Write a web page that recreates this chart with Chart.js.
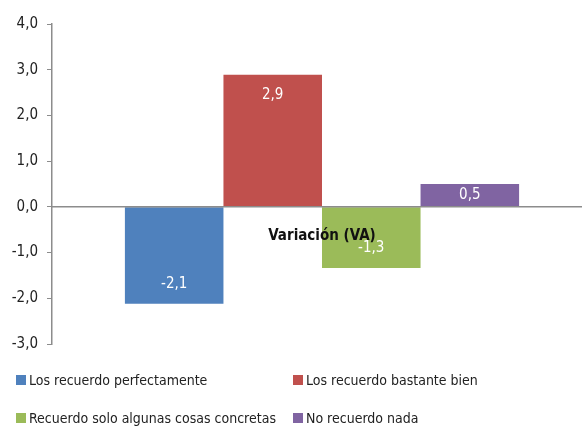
<!DOCTYPE html>
<html>
<head>
<meta charset="utf-8">
<script src="https://cdn.jsdelivr.net/npm/chart.js@4"></script>
<style>
    body { margin: 0; background: #fff; }
    #wrap { position: relative; width: 582px; height: 427px; overflow: hidden; }
    #legend { position: absolute; left: 0; top: 364px; width: 582px; font-family: "Liberation Sans Narrow", "DejaVu Sans Condensed", sans-serif; font-size: 14px; color: #222; }
    .item { position: absolute; display: flex; align-items: center; white-space: nowrap; }
    .box { width: 10px; height: 10px; margin-right: 3px; }
</style>
</head>
<body>
<div id="wrap">
    <canvas id="mainChart" width="592" height="427"></canvas>
    <div id="legend"></div>
</div>
<script>
// Chart data
const categories = ['Variación (VA)'];
const seriesNames = ['Los recuerdo perfectamente', 'Los recuerdo bastante bien', 'Recuerdo solo algunas cosas concretas', 'No recuerdo nada'];
const seriesValues = [[-2.12], [2.89], [-1.34], [0.5]];
const seriesColors = ['#4F81BD', '#C0504D', '#9BBB59', '#8064A2'];
const yMin = -3;
const yMax = 4;

const fontFamily = '"Liberation Sans Narrow", "DejaVu Sans Condensed", sans-serif';

function formatNum(v) {
    return v.toFixed(1).replace('.', ',');
}

// Draw values inside the bars
const barValues = {
    id: 'barValues',
    afterDatasetsDraw(chart) {
        const ctx = chart.ctx;
        ctx.save();
        ctx.fillStyle = '#fff';
        ctx.font = '15px ' + fontFamily;
        ctx.textAlign = 'center';
        ctx.textBaseline = 'middle';
        chart.data.datasets.forEach((ds, i) => {
            chart.getDatasetMeta(i).data.forEach((bar, j) => {
                const v = ds.data[j];
                const h = Math.abs(bar.base - bar.y);
                const off = Math.min(20, h / 2);
                const y = v >= 0 ? bar.y + off : bar.y - off;
                ctx.fillText(formatNum(v), bar.x, y);
            });
        });
        ctx.restore();
    }
};

let mainChart;

function initializeChart() {
    const ctx = document.getElementById('mainChart').getContext('2d');

    mainChart = new Chart(ctx, {
        type: 'bar',
        data: {
            labels: categories,
            datasets: seriesNames.map((name, i) => ({
                label: name,
                data: seriesValues[i],
                backgroundColor: seriesColors[i],
                borderWidth: 0
            }))
        },
        options: {
            responsive: false,
            animation: false,
            categoryPercentage: 0.73,
            barPercentage: 1,
            layout: { padding: { top: 24, right: 0, bottom: 83, left: 0 } },
            plugins: {
                legend: { display: false },
                tooltip: { enabled: false }
            },
            scales: {
                x: {
                    position: { y: 0 },
                    grid: { display: false },
                    border: { color: '#8c8c8c', width: 1.5, z: 1 },
                    ticks: {
                        z: 1,
                        color: '#111',
                        padding: 12,
                        font: { family: fontFamily, size: 15, weight: 'bold' }
                    }
                },
                y: {
                    min: yMin,
                    max: yMax,
                    afterFit(scale) { scale.width = 52; },
                    grid: { drawOnChartArea: false, tickLength: 5, color: '#8c8c8c' },
                    border: { color: '#8c8c8c', width: 1.5 },
                    ticks: {
                        stepSize: 1,
                        color: '#222',
                        padding: 9,
                        font: { family: fontFamily, size: 15 },
                        callback: (v) => formatNum(v)
                    }
                }
            }
        },
        plugins: [barValues]
    });
}

// Build the legend in two columns from the datasets
function buildLegend() {
    const legend = document.getElementById('legend');
    const cols = [16, 293];
    const rows = [8, 46];
    mainChart.data.datasets.forEach((ds, i) => {
        const item = document.createElement('div');
        item.className = 'item';
        item.style.left = cols[i % 2] + 'px';
        item.style.top = rows[Math.floor(i / 2)] + 'px';
        item.innerHTML = '<span class="box" style="background:' + ds.backgroundColor + '"></span>' + ds.label;
        legend.appendChild(item);
    });
}

initializeChart();
buildLegend();
</script>
</body>
</html>
